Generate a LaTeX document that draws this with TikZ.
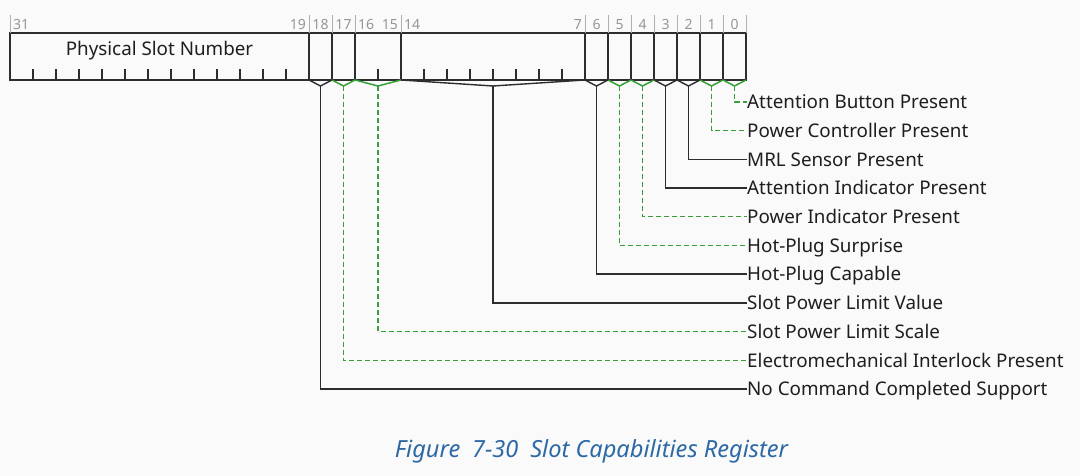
\documentclass[tikz,border=0pt]{standalone}
\usepackage{fontspec}
\setmainfont{Noto Sans}
\definecolor{bg}{RGB}{250,250,250}
\definecolor{ln}{RGB}{45,45,45}
\definecolor{gr}{RGB}{55,160,55}
\definecolor{num}{RGB}{150,150,150}
\definecolor{numln}{RGB}{175,175,175}
\definecolor{capc}{RGB}{45,105,165}
\definecolor{txt}{RGB}{30,30,30}
\begin{document}
\begin{tikzpicture}[x=1pt,y=-1pt,
  reg/.style={draw=ln,line width=1.8pt},
  tick/.style={draw=ln,line width=1.2pt},
  numline/.style={draw=numln,line width=0.9pt},
  bitnum/.style={text=num,inner sep=0pt,font=\fontsize{14}{16}\selectfont},
  kbr/.style={draw=ln,line width=1.4pt},
  gbr/.style={draw=gr,line width=1.5pt},
  kcon/.style={draw=ln,line width=1.5pt},
  gcon/.style={draw=gr,line width=1.7pt,dash pattern=on 5pt off 3pt},
  lab/.style={anchor=west,inner sep=0pt,text height=13.4pt,text depth=0pt,text=txt,font=\fontsize{18.8}{22}\selectfont},
  fieldname/.style={inner sep=0pt,text=txt,font=\fontsize{18.8}{22}\selectfont},
  captext/.style={inner sep=0pt,text=capc,font=\itshape\fontsize{23.6}{28}\selectfont}]
\fill[bg] (0,0) rectangle (1080,476);
\useasboundingbox (0,0) rectangle (1080,476);

% register frame
\draw[reg] (10,33) rectangle (746,80);
\foreach \x in {309,332,355,401,585,608,631,654,677,700,723}
  \draw[reg] (\x,33) -- (\x,80);
% ticks
\foreach \k in {1,...,12}
  \draw[tick] ({10+\k*23},80) -- ({10+\k*23},69);
\draw[tick] (378,80) -- (378,69);
\foreach \k in {18,...,24}
  \draw[tick] ({10+\k*23},80) -- ({10+\k*23},69);
% bit number guide lines
\foreach \x in {10,309,332,355,401,585,608,631,654,677,700,723,746}
  \draw[numline] (\x,15) -- (\x,33);
% bit numbers
\node[bitnum,anchor=base west] (n31) at (13,29.5) {31};
\node[bitnum,anchor=base east] (n19) at (306,29.5) {19};
\node[bitnum,anchor=base] (n18) at (320.5,29.5) {18};
\node[bitnum,anchor=base] (n17) at (343.5,29.5) {17};
\node[bitnum,anchor=base west] (n16) at (358,29.5) {16};
\node[bitnum,anchor=base east] (n15) at (398,29.5) {15};
\node[bitnum,anchor=base west] (n14) at (404,29.5) {14};
\node[bitnum,anchor=base east] (n7) at (582,29.5) {7};
\foreach \b in {6,...,0}
  \node[bitnum,anchor=base] (n\b) at ({10+(31-\b)*23+11.5},29.5) {\b};

% field name
\node[fieldname,anchor=base] (psn) at (159.5,55.5) {Physical Slot Number};

% brackets, connectors and labels
\foreach \n/\a/\b/\br/\con/\yy/\t in {
  0/723/746/gbr/gcon/102/Attention Button Present,
  1/700/723/gbr/gcon/130.5/Power Controller Present,
  2/677/700/kbr/kcon/159.5/MRL Sensor Present,
  3/654/677/kbr/kcon/188/Attention Indicator Present,
  4/631/654/gbr/gcon/216.5/Power Indicator Present,
  5/608/631/gbr/gcon/245.5/Hot-Plug Surprise,
  6/585/608/kbr/kcon/274/Hot-Plug Capable,
  7/401/585/kbr/kcon/303/Slot Power Limit Value,
  8/355/401/gbr/gcon/331.5/Slot Power Limit Scale,
  9/332/355/gbr/gcon/360.5/Electromechanical Interlock Present,
  10/309/332/kbr/kcon/389/No Command Completed Support}
{
  \coordinate (L\n) at (\a,80);
  \coordinate (R\n) at (\b,80);
  \coordinate (V\n) at ({(\a+\b)/2},86);
  \node[lab] (T\n) at (747,\yy) {\t};
  \draw[\br] (L\n) -- (V\n) -- (R\n);
  \draw[\con] (V\n) |- (T\n.west);
}

% caption
\node[captext,anchor=base] (caption) at (591.5,457) {Figure\hspace{0.5em}7-30\hspace{0.5em}Slot Capabilities Register};
\end{tikzpicture}
\end{document}
